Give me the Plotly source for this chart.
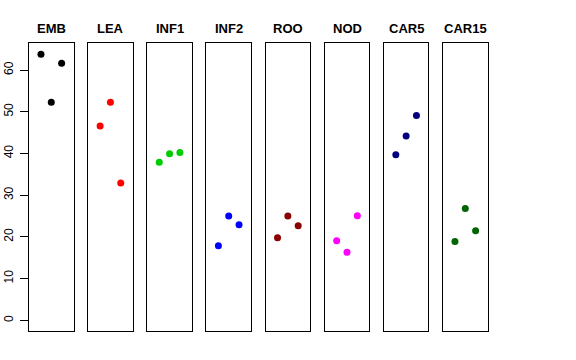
import plotly.graph_objects as go

panels = ["EMB", "LEA", "INF1", "INF2", "ROO", "NOD", "CAR5", "CAR15"]
colors = ["#000000", "#FF0000", "#00CD00", "#0000FF", "#8B0000", "#FF00FF", "#000080", "#006400"]
x_pos = [1, 2, 3]
values = [
    [63.8, 52.3, 61.6],
    [46.6, 52.3, 32.9],
    [37.9, 39.9, 40.2],
    [17.9, 25.0, 22.9],
    [19.8, 25.0, 22.7],
    [19.1, 16.3, 25.1],
    [39.7, 44.2, 49.1],
    [18.9, 26.8, 21.5],
]
y_ticks = [0, 10, 20, 30, 40, 50, 60]

W, H = 576, 360
left0, step, pw = 29.0, 59.14, 44.6
top_px, bot_px = 43.3, 331.0

fig = go.Figure()
layout = dict(
    width=W, height=H, margin=dict(l=0, r=0, t=0, b=0, autoexpand=False),
    paper_bgcolor="white", plot_bgcolor="white", showlegend=False,
    font=dict(family="Liberation Sans, Arial, sans-serif", size=12, color="black"),
)
annotations = []
for i, (name, col, vals) in enumerate(zip(panels, colors, values)):
    n = "" if i == 0 else str(i + 1)
    fig.add_trace(go.Scatter(
        x=x_pos, y=vals, mode="markers",
        marker=dict(color=col, size=7, line=dict(width=0)),
        xaxis="x" + n, yaxis="y" + n, hoverinfo="skip",
    ))
    x0 = (left0 + i * step) / W
    x1 = (left0 + i * step + pw) / W
    layout["xaxis" + n] = dict(
        domain=[x0, x1], range=[-0.16, 4.16], showgrid=False, zeroline=False,
        showticklabels=False, ticks="", showline=True, mirror=True,
        linecolor="black", linewidth=1, anchor="y" + n, fixedrange=True,
        automargin=False,
    )
    layout["yaxis" + n] = dict(
        domain=[(H - bot_px) / H, (H - top_px) / H], range=[-2.55, 66.4],
        showgrid=False, zeroline=False, showline=True, mirror=True,
        linecolor="black", linewidth=1, anchor="x" + n, fixedrange=True,
        showticklabels=(i == 0), ticks="outside" if i == 0 else "",
        tickvals=y_ticks, ticklen=8, tickcolor="black", tickangle=-90,
        ticklabelstandoff=2, automargin=False,
        tickfont=dict(size=12, color="black"),
    )
    annotations.append(dict(
        text="<b>" + name + "</b>", x=(x0 + x1) / 2, y=(H - 28.5) / H,
        xref="paper", yref="paper", xanchor="center", yanchor="middle",
        showarrow=False, font=dict(size=13, color="black"),
    ))
layout["annotations"] = annotations
fig.update_layout(**layout)
fig.write_html(
    "out.html",
    config={"displayModeBar": False},
    post_script="document.body.style.margin='0';document.body.style.overflow='hidden';",
)
